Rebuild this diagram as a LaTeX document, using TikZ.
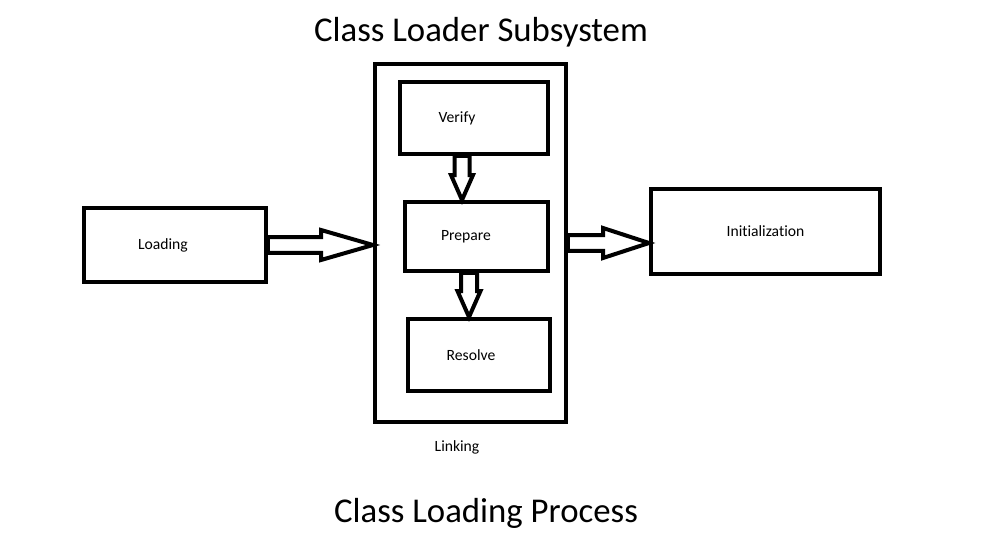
\documentclass[tikz,border=0pt]{standalone}
\usepackage{fontspec}
\setmainfont[Ligatures=NoCommon]{Carlito}
\usetikzlibrary{calc}

\tikzset{
  blockarrow/.style n args={3}{draw, line width=0.08cm, to path={
    ($(\tikztotarget)!#3!(\tikztostart)$) coordinate (hb)
    ($(\tikztostart)!#1!90:(\tikztotarget)$)
    -- ($(hb)!#1!90:(\tikztotarget)$)
    -- ($(hb)!#2!90:(\tikztotarget)$)
    -- (\tikztotarget)
    -- ($(hb)!#2!-90:(\tikztotarget)$)
    -- ($(hb)!#1!-90:(\tikztotarget)$)
    -- ($(\tikztostart)!#1!-90:(\tikztotarget)$)
    -- cycle}}
}

\begin{document}
\begin{tikzpicture}[
    x=0.02cm, y=-0.02cm,
    box/.style={draw, line width=0.08cm, inner sep=0pt},
    txt/.style={font=\fontsize{8.9}{10}\selectfont},
    title/.style={font=\fontsize{19.8}{22}\selectfont}
    ]
    \useasboundingbox (0,0) rectangle (1000,557);

    %Titles
    \node[title] (top) at (481,32) {Class Loader Subsystem};
    \node[title] (bottom) at (486,513) {Class Loading Process};

    %Boxes
    \node[box, minimum width=3.64cm, minimum height=1.48cm,
          label={[txt, xshift=-0.24cm]center:Loading}] (loading) at (175,245) {};
    \node[box, minimum width=3.82cm, minimum height=7.16cm,
          label={[txt, xshift=-0.27cm, label distance=0.2cm]below:Linking}] (linking) at (470.5,243) {};
    \node[box, minimum width=2.96cm, minimum height=1.44cm,
          label={[txt, xshift=-0.34cm]center:Verify}] (verify) at (474,118) {};
    \node[box, minimum width=2.86cm, minimum height=1.38cm,
          label={[txt, xshift=-0.21cm]center:Prepare}] (prepare) at (476.5,236.5) {};
    \node[box, minimum width=2.84cm, minimum height=1.44cm,
          label={[txt, xshift=-0.16cm]center:Resolve}] (resolve) at (479,355) {};
    \node[box, txt, minimum width=4.58cm, minimum height=1.7cm] (init) at (765.5,231.5) {Initialization};

    %Arrows
    \coordinate (vp) at ($(verify.south)+(-12,0)$);
    \coordinate (pr) at ($(prepare.south)+(-7.5,0)$);

    \draw[blockarrow={0.16cm}{0.3cm}{1.04cm}] (loading.east) to (loading.east -| linking.west);
    \draw[blockarrow={0.15cm}{0.22cm}{0.5cm}] (vp) to (vp |- prepare.north);
    \draw[blockarrow={0.16cm}{0.23cm}{0.52cm}] (pr) to (pr |- resolve.north);
    \draw[blockarrow={0.16cm}{0.3cm}{0.92cm}] (linking.east) to (linking.east -| init.west);

\end{tikzpicture}
\end{document}
